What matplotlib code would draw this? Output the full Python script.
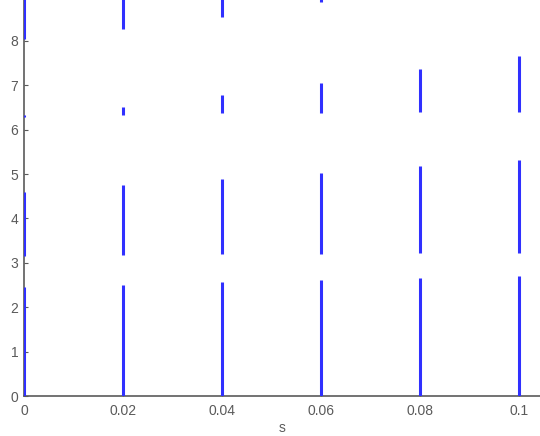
"""
Band plot: allowed frequency intervals versus s (vertical segments per s value).
"""
import numpy as np
import matplotlib.pyplot as plt

# parameter values on the x axis
s_vals = [0.0, 0.02, 0.04, 0.06, 0.08, 0.1]

# band edges (lower / upper per s value)
band1_lo = [0.0, 0.0, 0.0, 0.0, 0.0, 0.0]
band1_hi = [2.45, 2.50, 2.57, 2.61, 2.66, 2.70]
band2_lo = [3.15, 3.18, 3.19, 3.20, 3.21, 3.22]
band2_hi = [4.59, 4.75, 4.88, 5.03, 5.18, 5.31]
band3_lo = [6.29, 6.33, 6.37, 6.38, 6.40, 6.40]
band3_hi = [6.33, 6.51, 6.78, 7.05, 7.36, 7.66]
band4_lo = [8.04, 8.26, 8.54, 8.87, np.nan, np.nan]
band4_hi = [9.0, 9.0, 9.0, 9.0, np.nan, np.nan]

y_ticks = [0, 1, 2, 3, 4, 5, 6, 7, 8]
x_ticks = [0, 0.02, 0.04, 0.06, 0.08, 0.1]
x_ticklabels = ["0", "0.02", "0.04", "0.06", "0.08", "0.1"]

BLUE = "#3030ff"
GRAY = "#5a5a5a"

plt.rcParams["font.family"] = ["Liberation Sans", "DejaVu Sans"]

fig = plt.figure(figsize=(5.4, 4.36), dpi=100)
ax = fig.add_axes([24 / 540, 40 / 436, 516 / 540, 396 / 436])

for lo, hi in [(band1_lo, band1_hi), (band2_lo, band2_hi),
               (band3_lo, band3_hi), (band4_lo, band4_hi)]:
    ax.vlines(s_vals, lo, hi, colors=BLUE, linewidth=2.2, zorder=3)

ax.set_xlim(0, 516 / 4950)
ax.set_ylim(0, 396 / 44.4)
ax.set_xticks(x_ticks)
ax.set_xticklabels(x_ticklabels)
ax.set_yticks(y_ticks)

for side in ["top", "right"]:
    ax.spines[side].set_visible(False)
for side in ["left", "bottom"]:
    ax.spines[side].set_color(GRAY)
    ax.spines[side].set_linewidth(1.2)

ax.tick_params(direction="in", length=3, width=0.8, colors=GRAY,
               labelsize=10, labelcolor=GRAY)
ax.tick_params(axis="x", pad=6)
ax.tick_params(axis="y", pad=4)
ax.set_xlabel("s", fontsize=10, color=GRAY, labelpad=2)

fig.savefig("out.png", dpi=100, facecolor="white")
